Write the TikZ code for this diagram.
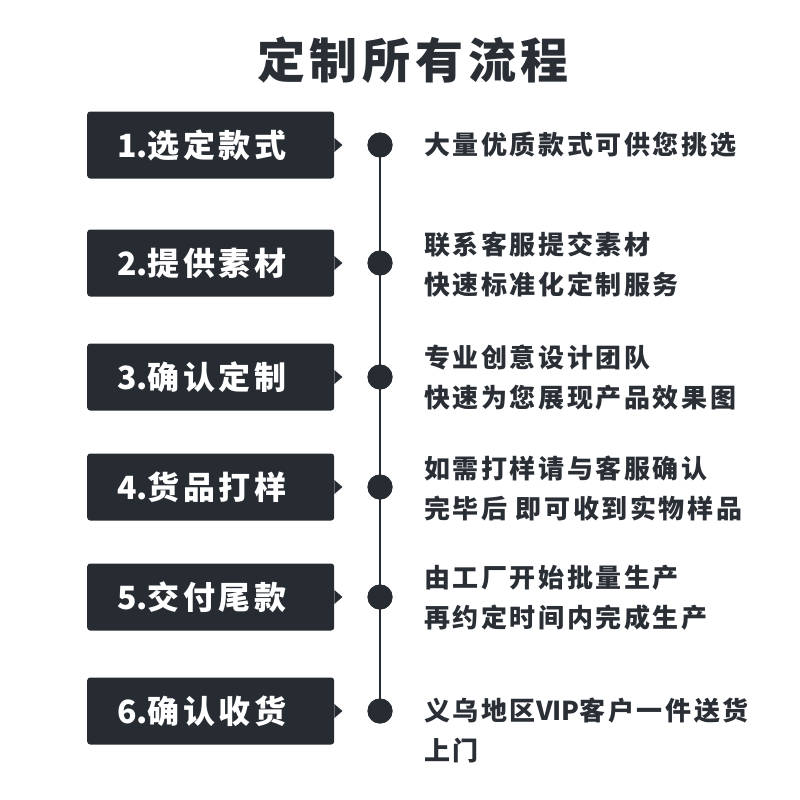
\documentclass[tikz,border=0pt]{standalone}
\usepackage{fontspec}
\setmainfont{Noto Sans CJK SC}
\newfontfamily\titlefont[LetterSpace=10]{Noto Sans CJK SC}
\newfontfamily\boxfont[LetterSpace=11]{Noto Sans CJK SC}
\newfontfamily\descfont[LetterSpace=10]{Noto Sans CJK SC}
\newfontfamily\plainfont{Noto Sans CJK SC}
\definecolor{ink}{HTML}{272C33}
\definecolor{txt}{HTML}{2A2F36}
\begin{document}
\begin{tikzpicture}[x=1pt,y=-1pt,
  stepbox/.style={fill=ink, rounded corners=3pt, minimum width=247pt, minimum height=67pt, inner sep=0pt, anchor=west},
  boxlabel/.style={text=white, font=\boxfont\bfseries\fontsize{32}{36}\selectfont, anchor=west, inner sep=0pt},
  dot/.style={circle, fill=ink, minimum size=25pt, inner sep=0pt},
  desc/.style={text=txt, font=\descfont\bfseries\fontsize{26}{40}\selectfont, anchor=west, align=left, inner sep=0pt}]
\useasboundingbox (0,0) rectangle (800,800);
\fill[white] (0,0) rectangle (800,800);
\node[text=txt, font=\titlefont\bfseries\fontsize{48}{52}\selectfont, inner sep=0pt] (title) at (413,60) {定制所有流程};
\foreach \i/\y/\lab in {1/145/选定款式, 2/263/提供素材, 3/377/确认定制, 4/487/货品打样, 5/597/交付尾款, 6/711/确认收货}{
  \node[stepbox] (b\i) at (87,\y) {};
  \fill[ink] ([yshift=7pt]b\i.east) -- ([xshift=8pt]b\i.east) -- ([yshift=-7pt]b\i.east) -- cycle;
  \node[boxlabel] (l\i) at (117,\y) {{\plainfont\bfseries\i.}\lab};
  \node[dot] (d\i) at (380,\y) {};
}
\draw[ink, line width=2pt] (d1.center) -- (d6.center);
\foreach \i in {1,...,6}{ \node[dot] at (d\i) {}; }
\node[desc] (t1) at (424,145) {大量优质款式可供您挑选};
\node[desc] (t2) at (424,265) {联系客服提交素材\\快速标准化定制服务};
\node[desc] (t3) at (424,378) {专业创意设计团队\\快速为您展现产品效果图};
\node[desc] (t4) at (424,488) {如需打样请与客服确认\\完毕后 即可收到实物样品};
\node[desc] (t5) at (424,598) {由工厂开始批量生产\\再约定时间内完成生产};
\node[desc] (t6) at (424,730) {义乌地区{\plainfont\bfseries VIP}客户一件送货\\上门};
\end{tikzpicture}
\end{document}
